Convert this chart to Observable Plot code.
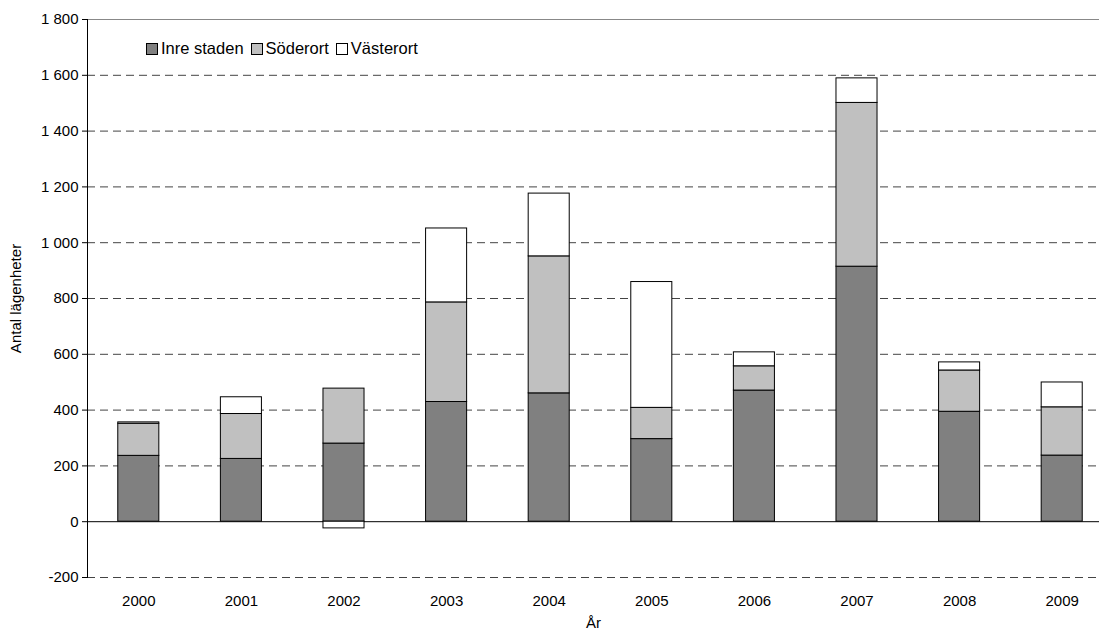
<!DOCTYPE html>
<html><head><meta charset="utf-8">
<script src="https://cdn.jsdelivr.net/npm/d3@7"></script>
<script src="https://cdn.jsdelivr.net/npm/@observablehq/plot@0.6"></script>
<style>
body{margin:0;background:#fff;font-family:"Liberation Sans",Arial,sans-serif;}
#wrap{position:relative;width:1099px;height:634px;overflow:hidden;}
#legend{position:absolute;left:146px;top:39px;font-size:16.5px;display:flex;align-items:center;color:#000;}
#legend span.sw{display:inline-block;width:10px;height:10px;border:1px solid #000;margin-right:3px;}
#legend span.lb{margin-right:7px;}
</style></head>
<body><div id="wrap"><div id="legend"></div></div>
<script>
const years = ["2000","2001","2002","2003","2004","2005","2006","2007","2008","2009"];
const seriesNames = ["Inre staden","Söderort","Västerort"];
const inreStaden = [236, 225, 280, 429, 460, 296, 470, 914, 394, 237];
const soderort   = [115, 161, 197, 357, 491, 112,  87, 587, 148, 173];
const vasterort  = [  5,  60, -24, 265, 225, 451,  50,  88,  29,  89];
const yTicks = [-200,0,200,400,600,800,1000,1200,1400,1600,1800];
const colors = ["#808080","#c0c0c0","#ffffff"];

const seriesValues = [inreStaden, soderort, vasterort];
const data = [];
seriesNames.forEach((s,i)=>years.forEach((y,j)=>data.push({year:y, series:s, value:seriesValues[i][j]})));

const fmt = v => d3.format(",")(v).replace(/,/g," ").replace("\u2212","-");
const chart = Plot.plot({
  width:1099, height:634,
  marginTop:19, marginBottom:57, marginLeft:87, marginRight:0,
  style:{fontFamily:"Liberation Sans, Arial, sans-serif", fontSize:"15px", color:"#000", background:"#fff"},
  x:{domain:years, range:[87,1113], paddingInner:0.6, paddingOuter:0.3, round:false, label:null},
  y:{domain:[-200,1800], label:null},
  color:{domain:seriesNames, range:colors},
  marks:[
    Plot.ruleY(yTicks.filter(v=>v!==0 && v!==1800), {stroke:"#444", strokeDasharray:"8,5", strokeWidth:1}),
    Plot.ruleY([1800], {stroke:"#888", strokeWidth:1}),
    Plot.ruleY([0], {stroke:"#000", strokeWidth:1}),
    Plot.barY(data, {x:"year", y:"value", fill:"series", stroke:"#000", strokeWidth:1, order:seriesNames}),
    Plot.axisY({ticks:yTicks, tickFormat:fmt, tickSize:5, tickPadding:4, stroke:"#000",
      label:"Antal lägenheter", labelAnchor:"center", labelArrow:"none", labelOffset:77, fontSize:15}),
    Plot.axisX({tickSize:0, tickPadding:18, label:"År", labelAnchor:"center", labelArrow:"none", labelOffset:50, fontSize:15}),
    Plot.frame({anchor:"left", stroke:"#000"})
  ]
});
const wrap = document.getElementById("wrap");
wrap.insertBefore(chart, wrap.firstChild);
const leg = document.getElementById("legend");
seriesNames.forEach((s,i)=>{
  const sw=document.createElement("span"); sw.className="sw"; sw.style.background=colors[i];
  const lb=document.createElement("span"); lb.className="lb"; lb.textContent=s;
  leg.appendChild(sw); leg.appendChild(lb);
});
</script></body></html>
